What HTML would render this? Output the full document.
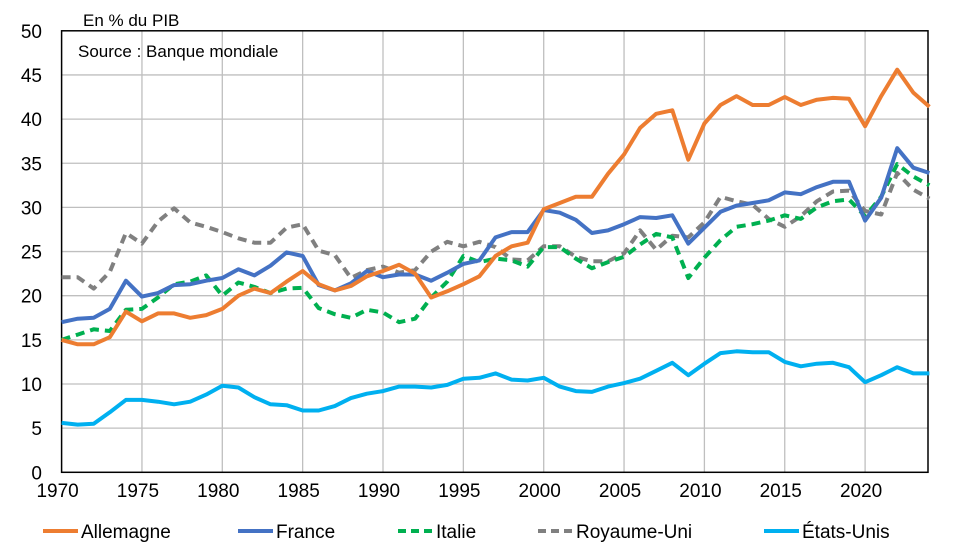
<!DOCTYPE html>
<html><head><meta charset="utf-8"><style>
html,body{margin:0;padding:0;background:#fff;}
svg{display:block;font-family:"Liberation Sans",Arial,sans-serif;}
</style></head><body>
<svg id="s" width="953" height="548" xmlns="http://www.w3.org/2000/svg"></svg>
<script>
const s=document.getElementById('s');
const X0=61.6,DX=16.07,Y0=472.3,DY=8.83;
const x=y=>X0+(y-1970)*DX, y=v=>Y0-v*DY;
let h='';
for(let v=5;v<50;v+=5)h+=`<line x1="${X0}" x2="928" y1="${y(v)}" y2="${y(v)}" stroke="#bfbfbf" stroke-width="1.3"/>`;
for(let yr=1975;yr<=2020;yr+=5)h+=`<line x1="${x(yr)}" x2="${x(yr)}" y1="${y(50)}" y2="${Y0}" stroke="#bfbfbf" stroke-width="1.3"/>`;
h+=`<rect x="${X0}" y="${y(50)}" width="${928-X0}" height="${Y0-y(50)}" fill="none" stroke="#000" stroke-width="1.5"/>`;
for(let v=0;v<=50;v+=5)h+=`<text x="42" y="${y(v)+7}" font-size="19" text-anchor="end">${v}</text>`;
for(let yr=1970;yr<=2020;yr+=5)h+=`<text x="${x(yr)-4}" y="497" font-size="19" text-anchor="middle">${yr}</text>`;
h+=`<text x="83" y="26" font-size="17">En % du PIB</text>`;
h+=`<text x="78" y="57" font-size="17">Source : Banque mondiale</text>`;
const D={
de:[15,14.5,14.5,15.3,18.2,17.1,18,18,17.5,17.8,18.5,20,20.8,20.3,21.6,22.8,21.3,20.6,21.1,22.2,22.8,23.5,22.5,19.8,20.5,21.3,22.2,24.5,25.6,26,29.8,30.5,31.2,31.2,33.8,36,39,40.6,41,35.4,39.5,41.6,42.6,41.6,41.6,42.5,41.6,42.2,42.4,42.3,39.2,42.6,45.6,43,41.4],
fr:[17,17.4,17.5,18.5,21.7,19.9,20.3,21.2,21.3,21.7,22,23,22.3,23.4,24.9,24.5,21.2,20.6,21.4,22.8,22.1,22.4,22.4,21.7,22.6,23.6,24,26.6,27.2,27.2,29.7,29.4,28.6,27.1,27.4,28.1,28.9,28.8,29.1,25.9,27.7,29.5,30.2,30.5,30.8,31.7,31.5,32.3,32.9,32.9,28.5,31.1,36.7,34.5,33.9],
it:[15,15.6,16.2,16,18.4,18.5,19.8,21.3,21.6,22.3,20,21.5,21,20.3,20.8,20.9,18.6,17.9,17.5,18.4,18.1,17,17.4,19.8,21.6,24.5,23.8,24.2,24,23.3,25.5,25.5,24.2,23.1,23.8,24.4,25.8,27,26.6,22,24.3,26.3,27.8,28.1,28.5,29.1,28.7,30,30.7,30.9,29,31.2,34.9,33.5,32.5],
uk:[22.1,22.1,20.8,22.7,27.1,25.9,28.4,29.9,28.3,27.8,27.2,26.5,26,26,27.7,28.1,25.1,24.6,22,22.9,23.3,22.6,22.9,25,26.1,25.6,26.1,25.5,24.1,24,25.6,25.6,24.4,23.9,23.9,24.8,27.4,25.2,26.8,26.6,28.3,31.2,30.7,30.3,28.7,27.8,29,30.7,31.8,31.9,29.6,29.2,33.9,32,31],
us:[5.6,5.4,5.5,6.8,8.2,8.2,8,7.7,8,8.8,9.8,9.6,8.5,7.7,7.6,7,7,7.5,8.4,8.9,9.2,9.7,9.7,9.6,9.9,10.6,10.7,11.2,10.5,10.4,10.7,9.7,9.2,9.1,9.7,10.1,10.6,11.5,12.4,11,12.3,13.5,13.7,13.6,13.6,12.5,12,12.3,12.4,11.9,10.2,11,11.9,11.2,11.2]};
const S=[['uk','#808080','9,6'],['it','#00b050','9,6'],['us','#00b0f0',''],['fr','#4472c4',''],['de','#ed7d31','']];
for(const [k,c,d] of S){
 const p=D[k].map((v,i)=>x(1970+i).toFixed(1)+','+y(v).toFixed(1)).join(' ');
 h+=`<polyline points="${p}" fill="none" stroke="${c}" stroke-width="4" stroke-linejoin="round" ${d?`stroke-dasharray="${d}"`:''}/>`;
}
const L=[[43,'#ed7d31','','Allemagne'],[238,'#4472c4','','France'],[398,'#00b050','8,5','Italie'],[538,'#808080','8,5','Royaume-Uni'],[764,'#00b0f0','','États-Unis']];
for(const [lx,c,d,t] of L){
 h+=`<line x1="${lx}" x2="${lx+35}" y1="531" y2="531" stroke="${c}" stroke-width="4" ${d?`stroke-dasharray="${d}"`:''}/>`;
 h+=`<text x="${lx+38}" y="538" font-size="19">${t}</text>`;
}
s.innerHTML=h;
</script>
</body></html>
